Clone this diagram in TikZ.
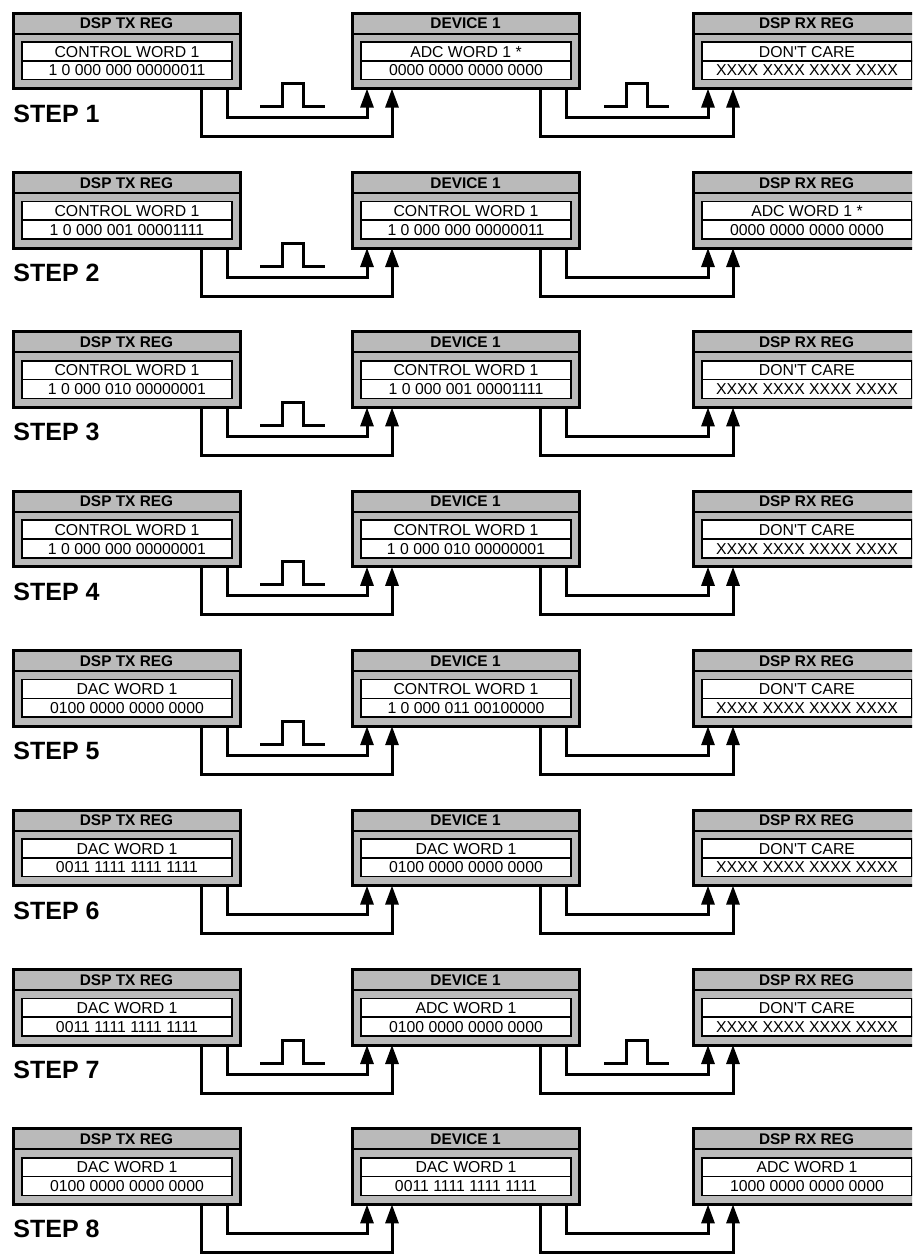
\documentclass[tikz,border=0pt]{standalone}
\usepackage{fontspec}
\setmainfont{Liberation Sans}
\usetikzlibrary{arrows.meta}

\begin{document}
\begin{tikzpicture}[x=0.5pt, y=-0.5pt,
  regbox/.style={draw, line width=1.5pt, fill=black!27, minimum width=113.5pt, minimum height=37.8pt, inner sep=0pt},
  wordbox/.style={draw, line width=0.8pt, fill=white, minimum width=105pt, minimum height=18.8pt, inner sep=0pt},
  headtext/.style={font=\bfseries\fontsize{7.7}{9}\selectfont, inner sep=0pt},
  wordtext/.style={font=\fontsize{7.9}{9}\selectfont, inner sep=0pt},
  steplabel/.style={font=\bfseries\fontsize{12.5}{14}\selectfont, anchor=base west, inner sep=0pt},
  wire/.style={line width=1.5pt, -{Triangle[length=9.5pt, width=6.5pt]}},
  pulse/.style={line width=1.5pt}]
  \useasboundingbox (0,0) rectangle (912,1254);
  \clip (0,0) rectangle (912,1254);
  % One row per step: tx word, device word, rx word, pulses (tx->dev, dev->rx)
  \foreach \s/\y/\ta/\tb/\da/\db/\ra/\rb/\pa/\pb in {
    1/13.0/CONTROL WORD 1/1 0 000 000 00000011/ADC WORD 1 */0000 0000 0000 0000/DON\textquotesingle T CARE/XXXX XXXX XXXX XXXX/1/1,
    2/172.4/CONTROL WORD 1/1 0 000 001 00001111/CONTROL WORD 1/1 0 000 000 00000011/ADC WORD 1 */0000 0000 0000 0000/1/0,
    3/331.8/CONTROL WORD 1/1 0 000 010 00000001/CONTROL WORD 1/1 0 000 001 00001111/DON\textquotesingle T CARE/XXXX XXXX XXXX XXXX/1/0,
    4/491.2/CONTROL WORD 1/1 0 000 000 00000001/CONTROL WORD 1/1 0 000 010 00000001/DON\textquotesingle T CARE/XXXX XXXX XXXX XXXX/1/0,
    5/650.6/DAC WORD 1/0100 0000 0000 0000/CONTROL WORD 1/1 0 000 011 00100000/DON\textquotesingle T CARE/XXXX XXXX XXXX XXXX/1/0,
    6/810.0/DAC WORD 1/0011 1111 1111 1111/DAC WORD 1/0100 0000 0000 0000/DON\textquotesingle T CARE/XXXX XXXX XXXX XXXX/0/0,
    7/969.4/DAC WORD 1/0011 1111 1111 1111/ADC WORD 1/0100 0000 0000 0000/DON\textquotesingle T CARE/XXXX XXXX XXXX XXXX/1/1,
    8/1128.8/DAC WORD 1/0100 0000 0000 0000/DAC WORD 1/0011 1111 1111 1111/ADC WORD 1/1000 0000 0000 0000/0/0} {
    % Registers
    \foreach \c/\x/\h/\w/\v in {tx/13/DSP TX REG/\ta/\tb, dev/352/DEVICE 1/\da/\db, rx/693/DSP RX REG/\ra/\rb} {
      \node[regbox] (\c\s) at (\x+113.5,\y+37.8) {};
      \draw[line width=1pt] (\x,\y+20.6) -- (\x+227,\y+20.6);
      \node[headtext] (\c h\s) at (\x+113.5,\y+10.3) {\h};
      \node[wordbox] (\c w\s) at (\x+114,\y+47.8) {};
      \draw[line width=0.8pt] (\c w\s.west) -- (\c w\s.east);
      \node[wordtext] (\c n\s) at (\x+114,\y+38.6) {\w};
      \node[wordtext] (\c b\s) at (\x+114,\y+57.4) {\v};
      \coordinate (\c o\s) at (\x+188,\y+75.6);
      \coordinate (\c i\s) at (\x+214,\y+75.6);
      \coordinate (\c p\s) at (\x+15,\y+75.6);
      \coordinate (\c q\s) at (\x+40,\y+75.6);
    }
    \node[steplabel] (step\s) at (13,\y+109) {STEP \s};
    % Wires
    \draw[wire] (txi\s) -- ++(0,29) -| (devp\s);
    \draw[wire] (txo\s) -- ++(0,48) -| (devq\s);
    \draw[wire] (devi\s) -- ++(0,29) -| (rxp\s);
    \draw[wire] (devo\s) -- ++(0,48) -| (rxq\s);
    % Clock pulses
    \ifnum\pa=1
      \draw[pulse] (txi\s) ++(33,18) -- ++(22,0) -- ++(0,-23) -- ++(21,0) -- ++(0,23) -- ++(22,0);
    \fi
    \ifnum\pb=1
      \draw[pulse] (devi\s) ++(38,18) -- ++(22,0) -- ++(0,-23) -- ++(21,0) -- ++(0,23) -- ++(22,0);
    \fi
  }
\end{tikzpicture}
\end{document}
